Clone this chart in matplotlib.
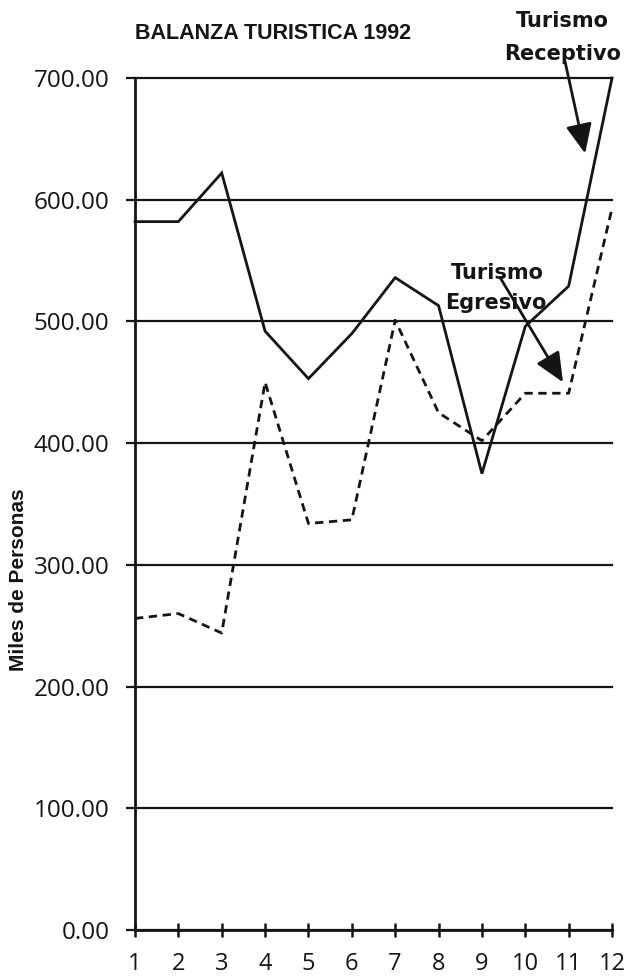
import matplotlib.pyplot as plt

# monthly tourism figures, thousands of people
months = [1, 2, 3, 4, 5, 6, 7, 8, 9, 10, 11, 12]
receptivo = [582, 582, 622, 492, 453, 490, 536, 513, 375, 496, 529, 700]
egresivo = [256, 260, 244, 450, 334, 337, 501, 425, 402, 441, 441, 593]
yticks = [0, 100, 200, 300, 400, 500, 600, 700]
ytick_labels = ['%.2f' % v for v in yticks]

ink = '#151515'

fig = plt.figure(figsize=(6.29, 9.8), dpi=100)
ax = fig.add_axes([0.2146, 0.0510, 0.7584, 0.8694])

ax.plot(months, receptivo, color=ink, lw=2.0, clip_on=False, solid_joinstyle='miter')
ax.plot(months, egresivo, color=ink, lw=2.0, dashes=(3, 2), clip_on=False)

ax.set_xlim(1, 12)
ax.set_ylim(0, 700)
ax.set_xticks(months)
ax.set_yticks(yticks)
ax.set_yticklabels(ytick_labels)

# horizontal rules at every hundred
ax.grid(axis='y', color=ink, lw=1.6)
ax.grid(axis='x', visible=False)
ax.set_axisbelow(True)
for gl in ax.get_ygridlines():
    gl.set_clip_on(False)

for s in ['top', 'right']:
    ax.spines[s].set_visible(False)
for s in ['left', 'bottom']:
    ax.spines[s].set_color(ink)
    ax.spines[s].set_linewidth(2.0)

ax.tick_params(axis='x', direction='inout', length=10, width=1.8, color=ink,
               pad=11, labelsize=17)
ax.tick_params(axis='y', direction='out', length=6.5, width=1.6, color=ink,
               pad=12, labelsize=17.5)
for lab in ax.get_xticklabels() + ax.get_yticklabels():
    lab.set_fontfamily('Open Sans')
    lab.set_color(ink)

fig.text(0.434, 0.966, 'BALANZA TURISTICA 1992', fontsize=15.5, fontweight='bold',
         family=['Liberation Sans'], ha='center', va='center', color=ink)
fig.text(0.029, 0.408, 'Miles de Personas', fontsize=15, fontweight='bold',
         family=['Liberation Sans'], rotation=90, ha='center', va='center', color=ink)

# callouts for each series
ax.text(10.85, 747, 'Turismo', fontsize=15, fontweight='bold', family='DejaVu Sans',
        ha='center', va='center', color=ink, clip_on=False)
ax.text(10.87, 720, 'Receptivo', fontsize=15, fontweight='bold', family='DejaVu Sans',
        ha='center', va='center', color=ink, clip_on=False)
ax.annotate('', xy=(11.38, 638), xytext=(10.92, 713), annotation_clip=False,
            arrowprops=dict(arrowstyle='-|>,head_length=0.9,head_width=0.4',
                            mutation_scale=20, color=ink, lw=2.0,
                            shrinkA=0, shrinkB=0))

ax.text(9.35, 540, 'Turismo', fontsize=15, fontweight='bold', family='DejaVu Sans',
        ha='center', va='center', color=ink)
ax.text(9.33, 515, 'Egresivo', fontsize=15, fontweight='bold', family='DejaVu Sans',
        ha='center', va='center', color=ink)
ax.annotate('', xy=(10.87, 450), xytext=(9.42, 536),
            arrowprops=dict(arrowstyle='-|>,head_length=0.9,head_width=0.4',
                            mutation_scale=20, color=ink, lw=2.0,
                            shrinkA=0, shrinkB=0))

fig.savefig('out.png', dpi=100, facecolor='white')
